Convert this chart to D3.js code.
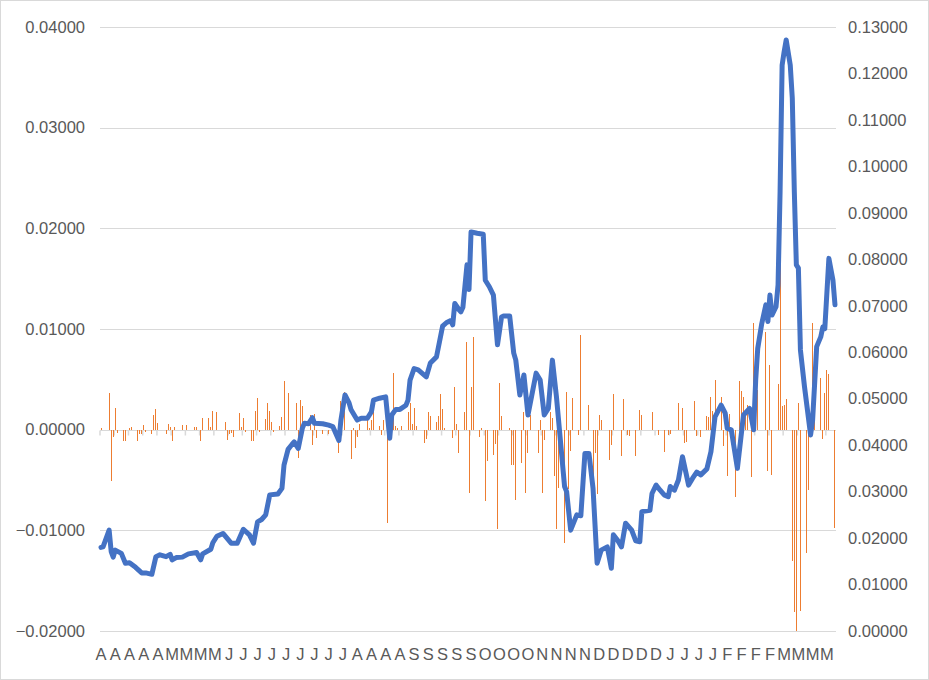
<!DOCTYPE html>
<html>
<head>
<meta charset="utf-8">
<script src="https://cdn.jsdelivr.net/npm/d3@7"></script>
<style>
  html, body { margin: 0; padding: 0; background: #ffffff; }
  svg { display: block; }
  text { font-family: "Liberation Sans", Arial, sans-serif; fill: #595959; }
</style>
</head>
<body>
<svg id="chart" width="929" height="680"></svg>
<script>
// ---------------- data ----------------
const dayCount = 362;

// month initials shown every 7th day
const tickLabels = ["A","A","A","A","A","M","M","M","M",
  "J","J","J","J","J","J","J","J","J",
  "A","A","A","A","S","S","S","S","S","O","O","O","O",
  "N","N","N","N","D","D","D","D","D","J","J","J","J",
  "F","F","F","F","M","M","M","M"];

// bar series (left axis): day index and value
const barDays = [0,4,5,6,7,8,11,12,14,15,18,19,20,21,22,25,26,27,28,32,33,34,35,36,40,42,46,47,49,50,53,54,55,57,
  61,62,63,64,65,68,69,70,71,74,75,76,77,78,81,82,83,84,85,88,89,90,92,96,97,98,99,103,104,105,106,109,112,117,118,
  120,123,124,125,126,127,131,132,133,134,137,138,139,141,144,145,146,148,151,152,153,154,155,159,160,161,162,165,
  166,167,168,169,173,174,175,176,179,180,181,182,183,186,187,189,190,193,194,195,196,197,201,202,203,204,207,208,
  209,210,211,215,216,217,218,221,222,223,224,225,228,229,230,231,232,235,236,240,242,243,244,245,246,250,251,252,
  256,257,259,260,263,265,266,271,274,277,279,280,284,286,287,288,292,293,295,298,299,300,301,302,305,306,308,309,
  312,314,315,316,317,318,320,321,323,327,328,329,330,333,334,335,336,337,340,341,342,343,344,347,348,350,351,354,
  355,356,357,358,361];
const barValues = [0.0002,0.0036,-0.0051,-0.0007,0.0022,-0.0003,-0.0011,-0.0011,0.0002,0.0003,-0.0011,-0.0004,-0.0004,
  0.0005,-0.0002,-0.0004,0.0015,0.0021,0.0007,-0.0004,0.0006,0.0003,-0.0011,0.0003,0.0005,0.0005,0.0003,0.0003,
  -0.0011,0.0012,0.0012,0.0003,0.0019,0.0018,
  0.0008,-0.0010,-0.0004,-0.0003,-0.0007,0.0017,0.0003,0.0012,-0.0002,-0.0011,-0.0011,0.0019,0.0031,-0.0002,0.0011,
  0.0026,0.0019,0.0008,-0.0002,0.0004,0.0013,0.0048,0.0036,0.0026,-0.0028,0.0029,0.0024,0.0015,-0.0015,0.0016,
  -0.0008,-0.0004,-0.0004,-0.0023,0.0028,
  0.0037,-0.0029,0.0002,-0.0018,-0.0007,0.0006,0.0010,0.0002,0.0010,0.0018,0.0004,-0.0005,0.0010,-0.0093,0.0056,
  0.0004,0.0002,0.0004,0.0018,0.0026,0.0006,0.0022,0.0004,-0.0013,-0.0009,0.0018,0.0014,0.0008,
  0.0014,0.0035,0.0021,0.0002,-0.0008,0.0042,0.0006,-0.0023,0.0018,0.0087,-0.0063,0.0042,0.0092,-0.0007,0.0002,
  -0.0071,-0.0031,-0.0025,-0.0014,-0.0099,0.0046,0.0014,0.0002,-0.0035,-0.0035,-0.0070,-0.0033,0.0018,
  -0.0063,-0.0023,0.0015,-0.0023,0.0010,-0.0063,-0.0010,0.0018,0.0012,-0.0046,-0.0099,-0.0058,-0.0113,0.0037,
  -0.0059,-0.0021,0.0031,-0.0005,0.0094,0.0025,-0.0057,-0.0023,-0.0064,0.0015,0.0010,-0.0030,-0.0015,0.0035,
  -0.0026,0.0030,-0.0005,-0.0006,-0.0026,0.0020,0.0015,0.0018,-0.0005,-0.0022,-0.0005,-0.0004,0.0026,0.0022,
  -0.0013,-0.0012,0.0028,-0.0006,-0.0007,0.0014,0.0013,0.0032,0.0019,0.0049,0.0032,-0.0016,-0.0046,0.0016,
  -0.0067,0.0048,0.0038,0.0032,0.0015,0.0025,-0.0047,0.0106,0.0039,0.0097,-0.0041,0.0064,-0.0045,0.0045,0.0174,
  0.0024,0.0025,0.0030,-0.0130,-0.0181,-0.0200,0.0026,-0.0180,-0.0123,-0.0060,0.0106,0.0029,0.0051,
  -0.0009,0.0036,0.0059,0.0055,-0.0098];

// line series (right axis): day index and value
const lineDays = [0,1,4,5,6,7,10,12,14,17,20,22,25,27,29,32,34,35,37,40,43,47,49,50,54,55,57,60,64,67,70,73,75,77,79,
  81,83,87,89,90,92,94,95,97,99,100,102,104,105,109,112,114,117,118,120,122,123,126,128,131,133,134,137,140,142,
  143,145,147,150,151,152,154,156,160,162,165,168,170,172,173,174,176,177,178,180,181,182,185,188,189,191,193,195,
  197,198,201,203,204,206,208,210,214,216,218,220,222,224,228,229,231,234,236,238,240,242,244,246,249,251,252,254,
  256,258,261,263,265,266,270,271,273,275,277,279,280,282,284,286,289,291,293,295,298,300,302,305,307,308,310,313,
  316,319,321,322,323,325,327,328,329,330,332,333,334,335,336,337,339,340,341,342,343,344,346,349,350,352,354,355,
  356,358,360,361];
const lineValues = [0.0180,0.0181,0.0217,0.0171,0.0159,0.0174,0.0167,0.0146,0.0147,0.0137,0.0125,0.0125,0.0122,
  0.0160,0.0164,0.0160,0.0165,0.0153,0.0158,0.0159,0.0166,0.0169,0.0153,0.0166,0.0176,0.0190,0.0204,0.0210,0.0189,
  0.0189,0.0219,0.0207,0.0189,0.0235,0.0240,
  0.0250,0.0293,0.0295,0.0307,0.0357,0.0391,0.0402,0.0407,0.0393,0.0436,0.0447,0.0446,0.0459,0.0447,0.0446,0.0443,
  0.0440,0.0410,0.0454,0.0508,0.0491,0.0476,0.0454,0.0458,0.0458,0.0472,0.0497,0.0501,0.0504,0.0415,
  0.0465,0.0477,0.0477,0.0486,0.0497,0.0540,0.0565,0.0562,0.0547,0.0577,0.0590,0.0656,0.0664,0.0668,0.0659,0.0705,
  0.0692,0.0687,0.0697,0.0788,0.0735,0.0859,0.0856,0.0854,0.0755,0.0741,0.0723,0.0616,
  0.0676,0.0678,0.0678,0.0598,0.0583,0.0508,0.0551,0.0465,0.0555,0.0540,0.0465,0.0479,0.0583,0.0504,0.0311,0.0300,
  0.0217,0.0250,0.0248,0.0382,0.0382,0.0307,0.0146,0.0174,0.0181,0.0135,0.0207,0.0196,
  0.0181,0.0232,0.0217,0.0194,0.0192,0.0257,0.0260,0.0296,0.0314,0.0303,0.0293,0.0289,0.0311,0.0303,0.0325,0.0375,
  0.0314,0.0329,0.0342,0.0336,0.0349,0.0386,0.0461,0.0486,0.0469,0.0436,0.0433,0.0350,
  0.0465,0.0479,0.0433,0.0540,0.0608,0.0662,0.0702,0.0666,0.0723,0.0680,0.0698,0.0745,0.0946,0.1218,0.1247,0.1272,
  0.1218,0.1147,0.0946,0.0788,0.0781,0.0605,0.0526,0.0422,0.0454,0.0612,0.0633,0.0654,
  0.0651,0.0802,0.0755,0.0702];

const leftTicks = [-0.02,-0.01,0,0.01,0.02,0.03,0.04];
const rightTicks = [0,0.01,0.02,0.03,0.04,0.05,0.06,0.07,0.08,0.09,0.10,0.11,0.12,0.13];

// ---------------- layout ----------------
const W = 929, H = 680;
const plot = { left: 100, right: 836, top: 27, bottom: 631 };
const fmt = d3.format(".5f");

const svg = d3.select("#chart");

svg.append("rect")
  .attr("x", 0.5).attr("y", 0.5).attr("width", W - 1).attr("height", H - 1)
  .attr("fill", "#ffffff").attr("stroke", "#d9d9d9").attr("stroke-width", 1);

const x = d3.scaleBand().domain(d3.range(dayCount)).range([plot.left, plot.right]).paddingInner(0).paddingOuter(0);
const yL = d3.scaleLinear().domain([-0.02, 0.04]).range([plot.bottom, plot.top]);
const yR = d3.scaleLinear().domain([0, 0.13]).range([plot.bottom, plot.top]);

// gridlines
svg.append("g").selectAll("line").data(leftTicks).join("line")
  .attr("x1", plot.left).attr("x2", plot.right)
  .attr("y1", d => Math.round(yL(d)) + 0.5).attr("y2", d => Math.round(yL(d)) + 0.5)
  .attr("stroke", "#d9d9d9").attr("stroke-width", 1);

// left axis
const gL = svg.append("g").attr("transform", `translate(${plot.left},0)`)
  .call(d3.axisLeft(yL).tickValues(leftTicks).tickFormat(fmt).tickSize(0).tickPadding(15));
gL.select(".domain").remove();
gL.selectAll("text").style("font-family", "'Liberation Sans', Arial, sans-serif")
  .style("font-size", "16.5px").attr("fill", "#595959");

// right axis
const gR = svg.append("g").attr("transform", `translate(${plot.right},0)`)
  .call(d3.axisRight(yR).tickValues(rightTicks).tickFormat(fmt).tickSize(0).tickPadding(12));
gR.select(".domain").remove();
gR.selectAll("text").style("font-family", "'Liberation Sans', Arial, sans-serif")
  .style("font-size", "16.5px").attr("fill", "#595959");

// category tick marks on zero line
const y0 = Math.round(yL(0)) + 0.5;
const tickIdx = d3.range(tickLabels.length).map(k => k * 7);
svg.append("g").selectAll("line").data(tickIdx).join("line")
  .attr("x1", d => x(d)).attr("x2", d => x(d))
  .attr("y1", y0).attr("y2", y0 + 5)
  .attr("stroke", "#d9d9d9").attr("stroke-width", 1.5);

// bars
const bars = barDays.map((d, i) => ({ day: d, value: barValues[i] }));
const bw = 1;
svg.append("g").selectAll("rect").data(bars).join("rect")
  .attr("x", d => Math.round(x(d.day) + x.bandwidth() / 2 - bw / 2))
  .attr("width", bw)
  .attr("y", d => Math.min(yL(d.value), yL(0)))
  .attr("height", d => Math.abs(yL(d.value) - yL(0)))
  .attr("fill", "#ed7d31")
  .attr("shape-rendering", "crispEdges");

// x labels
svg.append("g").selectAll("text").data(tickLabels).join("text")
  .attr("x", (d, k) => x(k * 7) + x.bandwidth() / 2)
  .attr("y", 660)
  .attr("text-anchor", "middle")
  .style("font-size", "16.5px")
  .text(d => d);

// line
const linePts = lineDays.map((d, i) => ({ day: d, value: lineValues[i] }));
const line = d3.line()
  .x(d => x(d.day) + x.bandwidth() / 2)
  .y(d => yR(d.value));
svg.append("path").datum(linePts)
  .attr("d", line)
  .attr("fill", "none")
  .attr("stroke", "#4472c4")
  .attr("stroke-width", 5)
  .attr("stroke-linejoin", "round")
  .attr("stroke-linecap", "round");
</script>
</body>
</html>
